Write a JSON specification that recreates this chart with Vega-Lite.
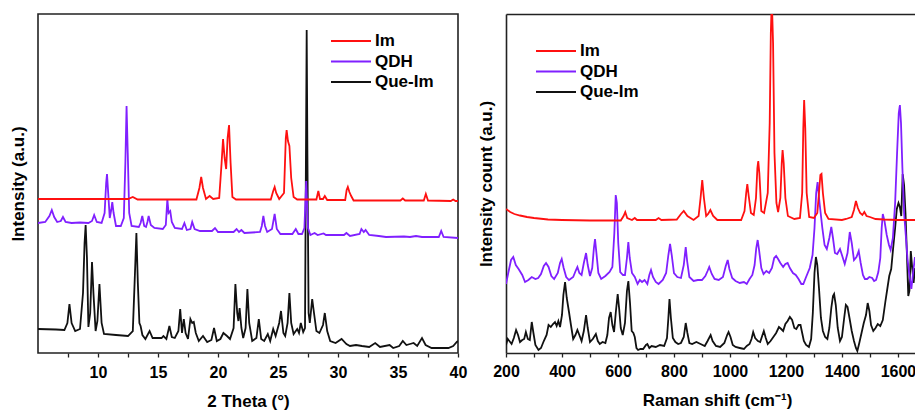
{
  "$schema": "https://vega.github.io/schema/vega-lite/v6.json",
  "background": "white",
  "padding": {"left": 8, "top": 13, "right": 0, "bottom": 0},
  "config": {
    "font": "Liberation Sans",
    "view": {"stroke": "#222222", "strokeWidth": 1.6},
    "axis": {
      "grid": false,
      "labelFont": "Liberation Sans",
      "labelFontWeight": "bold",
      "labelFontSize": 16,
      "labelColor": "#000000",
      "titleFont": "Liberation Sans",
      "titleFontWeight": "bold",
      "titleFontSize": 17,
      "titleColor": "#000000",
      "tickColor": "#222222",
      "tickWidth": 1.3,
      "domainColor": "#222222",
      "domainWidth": 1.6
    },
    "legend": {
      "title": null,
      "symbolType": "stroke",
      "symbolSize": 1600,
      "symbolStrokeWidth": 2,
      "labelFont": "Liberation Sans",
      "labelFontWeight": "bold",
      "labelFontSize": 17,
      "labelColor": "#000000",
      "clipHeight": 18,
      "rowPadding": 2.5,
      "labelOffset": 3,
      "padding": 0
    }
  },
  "datasets": {
    "xrd": [
      {"s":"Que-Im","x":5,"y":24},{"s":"Que-Im","x":6.5,"y":23.5},{"s":"Que-Im","x":7.2,"y":23},{"s":"Que-Im","x":7.45,"y":30},{"s":"Que-Im","x":7.62,"y":49},{"s":"Que-Im","x":7.8,"y":30},{"s":"Que-Im","x":8.1,"y":22},{"s":"Que-Im","x":8.5,"y":24},{"s":"Que-Im","x":8.75,"y":60},{"s":"Que-Im","x":8.88,"y":110},{"s":"Que-Im","x":8.97,"y":128},{"s":"Que-Im","x":9.08,"y":95},{"s":"Que-Im","x":9.2,"y":26},{"s":"Que-Im","x":9.35,"y":40},{"s":"Que-Im","x":9.5,"y":91},{"s":"Que-Im","x":9.62,"y":60},{"s":"Que-Im","x":9.8,"y":22},{"s":"Que-Im","x":9.95,"y":32},{"s":"Que-Im","x":10.12,"y":69},{"s":"Que-Im","x":10.3,"y":30},{"s":"Que-Im","x":10.5,"y":19},{"s":"Que-Im","x":11.5,"y":18},{"s":"Que-Im","x":12.5,"y":17},{"s":"Que-Im","x":12.9,"y":22},{"s":"Que-Im","x":13.05,"y":70},{"s":"Que-Im","x":13.2,"y":120},{"s":"Que-Im","x":13.32,"y":70},{"s":"Que-Im","x":13.45,"y":30},{"s":"Que-Im","x":13.55,"y":27},{"s":"Que-Im","x":13.7,"y":18},{"s":"Que-Im","x":13.95,"y":14},{"s":"Que-Im","x":14.3,"y":22},{"s":"Que-Im","x":14.55,"y":15},{"s":"Que-Im","x":15.3,"y":15},{"s":"Que-Im","x":15.45,"y":17},{"s":"Que-Im","x":15.7,"y":14},{"s":"Que-Im","x":15.95,"y":27},{"s":"Que-Im","x":16.15,"y":16},{"s":"Que-Im","x":16.4,"y":15},{"s":"Que-Im","x":16.7,"y":22},{"s":"Que-Im","x":16.85,"y":44},{"s":"Que-Im","x":17.0,"y":20},{"s":"Que-Im","x":17.15,"y":34},{"s":"Que-Im","x":17.3,"y":20},{"s":"Que-Im","x":17.5,"y":14},{"s":"Que-Im","x":17.7,"y":34},{"s":"Que-Im","x":17.85,"y":30},{"s":"Que-Im","x":17.98,"y":31},{"s":"Que-Im","x":18.15,"y":20},{"s":"Que-Im","x":18.4,"y":12},{"s":"Que-Im","x":18.75,"y":17},{"s":"Que-Im","x":19.1,"y":11},{"s":"Que-Im","x":19.45,"y":13},{"s":"Que-Im","x":19.67,"y":25},{"s":"Que-Im","x":19.9,"y":12},{"s":"Que-Im","x":20.2,"y":14},{"s":"Que-Im","x":20.45,"y":20},{"s":"Que-Im","x":20.75,"y":17},{"s":"Que-Im","x":21.0,"y":14},{"s":"Que-Im","x":21.3,"y":25},{"s":"Que-Im","x":21.45,"y":69},{"s":"Que-Im","x":21.6,"y":40},{"s":"Que-Im","x":21.7,"y":32},{"s":"Que-Im","x":21.8,"y":45},{"s":"Que-Im","x":21.95,"y":25},{"s":"Que-Im","x":22.1,"y":15},{"s":"Que-Im","x":22.3,"y":25},{"s":"Que-Im","x":22.45,"y":64},{"s":"Que-Im","x":22.6,"y":30},{"s":"Que-Im","x":22.85,"y":12},{"s":"Que-Im","x":23.2,"y":15},{"s":"Que-Im","x":23.4,"y":34},{"s":"Que-Im","x":23.6,"y":14},{"s":"Que-Im","x":23.85,"y":12},{"s":"Que-Im","x":24.15,"y":19},{"s":"Que-Im","x":24.35,"y":12},{"s":"Que-Im","x":24.6,"y":24},{"s":"Que-Im","x":24.8,"y":17},{"s":"Que-Im","x":25.1,"y":30},{"s":"Que-Im","x":25.25,"y":42},{"s":"Que-Im","x":25.45,"y":20},{"s":"Que-Im","x":25.6,"y":17},{"s":"Que-Im","x":25.8,"y":30},{"s":"Que-Im","x":25.95,"y":60},{"s":"Que-Im","x":26.1,"y":30},{"s":"Que-Im","x":26.3,"y":19},{"s":"Que-Im","x":26.6,"y":24},{"s":"Que-Im","x":26.75,"y":20},{"s":"Que-Im","x":26.9,"y":30},{"s":"Que-Im","x":27.1,"y":21},{"s":"Que-Im","x":27.25,"y":25},{"s":"Que-Im","x":27.33,"y":200},{"s":"Que-Im","x":27.39,"y":323},{"s":"Que-Im","x":27.45,"y":200},{"s":"Que-Im","x":27.55,"y":40},{"s":"Que-Im","x":27.65,"y":30},{"s":"Que-Im","x":27.85,"y":54},{"s":"Que-Im","x":28.0,"y":40},{"s":"Que-Im","x":28.2,"y":22},{"s":"Que-Im","x":28.45,"y":20},{"s":"Que-Im","x":28.75,"y":28},{"s":"Que-Im","x":28.9,"y":40},{"s":"Que-Im","x":29.1,"y":22},{"s":"Que-Im","x":29.35,"y":12},{"s":"Que-Im","x":29.8,"y":10},{"s":"Que-Im","x":30.3,"y":14},{"s":"Que-Im","x":30.7,"y":9},{"s":"Que-Im","x":31.0,"y":7},{"s":"Que-Im","x":31.5,"y":8},{"s":"Que-Im","x":32.0,"y":7},{"s":"Que-Im","x":32.6,"y":6},{"s":"Que-Im","x":33.1,"y":10},{"s":"Que-Im","x":33.5,"y":6},{"s":"Que-Im","x":34.3,"y":8},{"s":"Que-Im","x":34.6,"y":5},{"s":"Que-Im","x":35.1,"y":7},{"s":"Que-Im","x":35.4,"y":12},{"s":"Que-Im","x":35.7,"y":8},{"s":"Que-Im","x":36.0,"y":9},{"s":"Que-Im","x":36.3,"y":10},{"s":"Que-Im","x":36.6,"y":7},{"s":"Que-Im","x":37.0,"y":15},{"s":"Que-Im","x":37.3,"y":8},{"s":"Que-Im","x":37.8,"y":5},{"s":"Que-Im","x":38.5,"y":5},{"s":"Que-Im","x":39.2,"y":5},{"s":"Que-Im","x":39.6,"y":7},{"s":"Que-Im","x":39.9,"y":11},{"s":"Que-Im","x":40,"y":12},

      {"s":"QDH","x":5,"y":130},{"s":"QDH","x":5.6,"y":131},{"s":"QDH","x":5.95,"y":137},{"s":"QDH","x":6.15,"y":143},{"s":"QDH","x":6.35,"y":136},{"s":"QDH","x":6.6,"y":131},{"s":"QDH","x":6.9,"y":132},{"s":"QDH","x":7.08,"y":136},{"s":"QDH","x":7.3,"y":131},{"s":"QDH","x":7.8,"y":130},{"s":"QDH","x":8.5,"y":130.5},{"s":"QDH","x":9.2,"y":130},{"s":"QDH","x":9.5,"y":132},{"s":"QDH","x":9.68,"y":138},{"s":"QDH","x":9.9,"y":131},{"s":"QDH","x":10.3,"y":130},{"s":"QDH","x":10.55,"y":140},{"s":"QDH","x":10.68,"y":170},{"s":"QDH","x":10.75,"y":179},{"s":"QDH","x":10.85,"y":160},{"s":"QDH","x":10.98,"y":135},{"s":"QDH","x":11.1,"y":143},{"s":"QDH","x":11.19,"y":151},{"s":"QDH","x":11.3,"y":140},{"s":"QDH","x":11.5,"y":127},{"s":"QDH","x":11.9,"y":127},{"s":"QDH","x":12.15,"y":135},{"s":"QDH","x":12.28,"y":190},{"s":"QDH","x":12.38,"y":247},{"s":"QDH","x":12.48,"y":200},{"s":"QDH","x":12.6,"y":140},{"s":"QDH","x":12.8,"y":127},{"s":"QDH","x":13.4,"y":126},{"s":"QDH","x":13.55,"y":130},{"s":"QDH","x":13.69,"y":137},{"s":"QDH","x":13.85,"y":127},{"s":"QDH","x":14.0,"y":126},{"s":"QDH","x":14.12,"y":131},{"s":"QDH","x":14.22,"y":137},{"s":"QDH","x":14.4,"y":128},{"s":"QDH","x":14.7,"y":125},{"s":"QDH","x":15.4,"y":124},{"s":"QDH","x":15.65,"y":128},{"s":"QDH","x":15.78,"y":154},{"s":"QDH","x":15.88,"y":140},{"s":"QDH","x":16.02,"y":142},{"s":"QDH","x":16.15,"y":131},{"s":"QDH","x":16.4,"y":125},{"s":"QDH","x":17.0,"y":124},{"s":"QDH","x":17.2,"y":130},{"s":"QDH","x":17.4,"y":123},{"s":"QDH","x":17.7,"y":124},{"s":"QDH","x":17.85,"y":131},{"s":"QDH","x":18.05,"y":124},{"s":"QDH","x":18.5,"y":122},{"s":"QDH","x":19.5,"y":122},{"s":"QDH","x":19.75,"y":125},{"s":"QDH","x":20.0,"y":121},{"s":"QDH","x":21.3,"y":121},{"s":"QDH","x":21.55,"y":124},{"s":"QDH","x":21.75,"y":121},{"s":"QDH","x":21.95,"y":123},{"s":"QDH","x":22.2,"y":120},{"s":"QDH","x":23.5,"y":121},{"s":"QDH","x":23.65,"y":127},{"s":"QDH","x":23.78,"y":137},{"s":"QDH","x":23.92,"y":127},{"s":"QDH","x":24.1,"y":121},{"s":"QDH","x":24.5,"y":124},{"s":"QDH","x":24.72,"y":139},{"s":"QDH","x":24.9,"y":124},{"s":"QDH","x":25.2,"y":119},{"s":"QDH","x":26.2,"y":119},{"s":"QDH","x":26.48,"y":124},{"s":"QDH","x":26.7,"y":119},{"s":"QDH","x":27.0,"y":119},{"s":"QDH","x":27.2,"y":125},{"s":"QDH","x":27.35,"y":172},{"s":"QDH","x":27.5,"y":125},{"s":"QDH","x":27.7,"y":118},{"s":"QDH","x":28.05,"y":120},{"s":"QDH","x":28.3,"y":118},{"s":"QDH","x":28.8,"y":119.5},{"s":"QDH","x":29.0,"y":118},{"s":"QDH","x":30.5,"y":118},{"s":"QDH","x":30.7,"y":120},{"s":"QDH","x":31.0,"y":117},{"s":"QDH","x":31.8,"y":119},{"s":"QDH","x":31.95,"y":124},{"s":"QDH","x":32.15,"y":121},{"s":"QDH","x":32.3,"y":123},{"s":"QDH","x":32.6,"y":118},{"s":"QDH","x":33.4,"y":117},{"s":"QDH","x":34.0,"y":116},{"s":"QDH","x":35.5,"y":116.5},{"s":"QDH","x":36.0,"y":116},{"s":"QDH","x":36.5,"y":117},{"s":"QDH","x":37,"y":116},{"s":"QDH","x":38.4,"y":116},{"s":"QDH","x":38.6,"y":122},{"s":"QDH","x":38.8,"y":116},{"s":"QDH","x":40,"y":115},

      {"s":"Im","x":5,"y":154},{"s":"Im","x":8,"y":154},{"s":"Im","x":12.5,"y":154},{"s":"Im","x":12.9,"y":156},{"s":"Im","x":13.3,"y":153.5},{"s":"Im","x":18.2,"y":153.5},{"s":"Im","x":18.45,"y":165},{"s":"Im","x":18.6,"y":176},{"s":"Im","x":18.75,"y":165},{"s":"Im","x":19.0,"y":154},{"s":"Im","x":19.3,"y":157},{"s":"Im","x":19.6,"y":154},{"s":"Im","x":20.1,"y":155},{"s":"Im","x":20.3,"y":190},{"s":"Im","x":20.42,"y":214},{"s":"Im","x":20.55,"y":195},{"s":"Im","x":20.68,"y":184},{"s":"Im","x":20.8,"y":215},{"s":"Im","x":20.92,"y":228},{"s":"Im","x":21.05,"y":190},{"s":"Im","x":21.2,"y":156},{"s":"Im","x":21.5,"y":153.5},{"s":"Im","x":24.4,"y":153.5},{"s":"Im","x":24.6,"y":162},{"s":"Im","x":24.72,"y":166},{"s":"Im","x":24.85,"y":160},{"s":"Im","x":25.1,"y":154},{"s":"Im","x":25.5,"y":160},{"s":"Im","x":25.65,"y":215},{"s":"Im","x":25.72,"y":223},{"s":"Im","x":25.83,"y":212},{"s":"Im","x":25.95,"y":207},{"s":"Im","x":26.1,"y":175},{"s":"Im","x":26.3,"y":156},{"s":"Im","x":26.6,"y":153.5},{"s":"Im","x":28.2,"y":153.5},{"s":"Im","x":28.36,"y":162},{"s":"Im","x":28.5,"y":154},{"s":"Im","x":28.75,"y":154},{"s":"Im","x":28.9,"y":157},{"s":"Im","x":29.1,"y":153},{"s":"Im","x":30.6,"y":153},{"s":"Im","x":30.72,"y":163},{"s":"Im","x":30.82,"y":166},{"s":"Im","x":30.95,"y":161},{"s":"Im","x":31.1,"y":157},{"s":"Im","x":31.3,"y":152.5},{"s":"Im","x":35.2,"y":152.5},{"s":"Im","x":35.4,"y":154.5},{"s":"Im","x":35.6,"y":152.5},{"s":"Im","x":37.15,"y":152.5},{"s":"Im","x":37.32,"y":159},{"s":"Im","x":37.5,"y":152.5},{"s":"Im","x":39.4,"y":152},{"s":"Im","x":39.6,"y":153.5},{"s":"Im","x":39.8,"y":152},{"s":"Im","x":40,"y":152}
    ],
    "raman": [
      {"s":"Que-Im","x":200,"y":8},{"s":"Que-Im","x":206,"y":14},{"s":"Que-Im","x":212,"y":12},{"s":"Que-Im","x":220,"y":9},{"s":"Que-Im","x":228,"y":15},{"s":"Que-Im","x":236,"y":23},{"s":"Que-Im","x":243,"y":18},{"s":"Que-Im","x":250,"y":11},{"s":"Que-Im","x":258,"y":13},{"s":"Que-Im","x":265,"y":14},{"s":"Que-Im","x":271,"y":21},{"s":"Que-Im","x":278,"y":14},{"s":"Que-Im","x":285,"y":13},{"s":"Que-Im","x":292,"y":31},{"s":"Que-Im","x":298,"y":20},{"s":"Que-Im","x":305,"y":8},{"s":"Que-Im","x":316,"y":3},{"s":"Que-Im","x":325,"y":5},{"s":"Que-Im","x":335,"y":12},{"s":"Que-Im","x":345,"y":18},{"s":"Que-Im","x":352,"y":28},{"s":"Que-Im","x":360,"y":26},{"s":"Que-Im","x":368,"y":29},{"s":"Que-Im","x":375,"y":31},{"s":"Que-Im","x":381,"y":27},{"s":"Que-Im","x":387,"y":32},{"s":"Que-Im","x":393,"y":26},{"s":"Que-Im","x":400,"y":38},{"s":"Que-Im","x":405,"y":58},{"s":"Que-Im","x":411,"y":71},{"s":"Que-Im","x":417,"y":55},{"s":"Que-Im","x":425,"y":41},{"s":"Que-Im","x":432,"y":28},{"s":"Que-Im","x":440,"y":14},{"s":"Que-Im","x":448,"y":18},{"s":"Que-Im","x":455,"y":23},{"s":"Que-Im","x":462,"y":18},{"s":"Que-Im","x":470,"y":12},{"s":"Que-Im","x":478,"y":22},{"s":"Que-Im","x":486,"y":38},{"s":"Que-Im","x":492,"y":25},{"s":"Que-Im","x":500,"y":11},{"s":"Que-Im","x":510,"y":14},{"s":"Que-Im","x":521,"y":19},{"s":"Que-Im","x":528,"y":12},{"s":"Que-Im","x":535,"y":9},{"s":"Que-Im","x":545,"y":11},{"s":"Que-Im","x":555,"y":10},{"s":"Que-Im","x":562,"y":18},{"s":"Que-Im","x":568,"y":35},{"s":"Que-Im","x":574,"y":41},{"s":"Que-Im","x":580,"y":28},{"s":"Que-Im","x":586,"y":21},{"s":"Que-Im","x":592,"y":40},{"s":"Que-Im","x":599,"y":59},{"s":"Que-Im","x":604,"y":45},{"s":"Que-Im","x":610,"y":25},{"s":"Que-Im","x":617,"y":18},{"s":"Que-Im","x":625,"y":30},{"s":"Que-Im","x":632,"y":62},{"s":"Que-Im","x":637,"y":72},{"s":"Que-Im","x":643,"y":50},{"s":"Que-Im","x":649,"y":22},{"s":"Que-Im","x":655,"y":20},{"s":"Que-Im","x":660,"y":16},{"s":"Que-Im","x":666,"y":5},{"s":"Que-Im","x":672,"y":3},{"s":"Que-Im","x":680,"y":4},{"s":"Que-Im","x":690,"y":4},{"s":"Que-Im","x":700,"y":8},{"s":"Que-Im","x":705,"y":9},{"s":"Que-Im","x":712,"y":5},{"s":"Que-Im","x":720,"y":7},{"s":"Que-Im","x":735,"y":6},{"s":"Que-Im","x":750,"y":8},{"s":"Que-Im","x":765,"y":7},{"s":"Que-Im","x":775,"y":15},{"s":"Que-Im","x":780,"y":35},{"s":"Que-Im","x":784,"y":54},{"s":"Que-Im","x":789,"y":35},{"s":"Que-Im","x":796,"y":15},{"s":"Que-Im","x":805,"y":11},{"s":"Que-Im","x":815,"y":9},{"s":"Que-Im","x":825,"y":10},{"s":"Que-Im","x":835,"y":16},{"s":"Que-Im","x":842,"y":30},{"s":"Que-Im","x":848,"y":20},{"s":"Que-Im","x":855,"y":10},{"s":"Que-Im","x":865,"y":9},{"s":"Que-Im","x":880,"y":11},{"s":"Que-Im","x":895,"y":9},{"s":"Que-Im","x":910,"y":7},{"s":"Que-Im","x":920,"y":12},{"s":"Que-Im","x":931,"y":18},{"s":"Que-Im","x":938,"y":12},{"s":"Que-Im","x":950,"y":7},{"s":"Que-Im","x":965,"y":6},{"s":"Que-Im","x":980,"y":10},{"s":"Que-Im","x":990,"y":18},{"s":"Que-Im","x":995,"y":21},{"s":"Que-Im","x":1002,"y":16},{"s":"Que-Im","x":1010,"y":8},{"s":"Que-Im","x":1020,"y":6},{"s":"Que-Im","x":1035,"y":5},{"s":"Que-Im","x":1050,"y":4},{"s":"Que-Im","x":1060,"y":7},{"s":"Que-Im","x":1070,"y":9},{"s":"Que-Im","x":1077,"y":14},{"s":"Que-Im","x":1083,"y":21},{"s":"Que-Im","x":1090,"y":15},{"s":"Que-Im","x":1100,"y":12},{"s":"Que-Im","x":1108,"y":11},{"s":"Que-Im","x":1115,"y":17},{"s":"Que-Im","x":1121,"y":22},{"s":"Que-Im","x":1128,"y":15},{"s":"Que-Im","x":1135,"y":9},{"s":"Que-Im","x":1145,"y":12},{"s":"Que-Im","x":1155,"y":16},{"s":"Que-Im","x":1165,"y":20},{"s":"Que-Im","x":1175,"y":26},{"s":"Que-Im","x":1183,"y":24},{"s":"Que-Im","x":1190,"y":22},{"s":"Que-Im","x":1198,"y":29},{"s":"Que-Im","x":1206,"y":32},{"s":"Que-Im","x":1214,"y":36},{"s":"Que-Im","x":1222,"y":33},{"s":"Que-Im","x":1230,"y":25},{"s":"Que-Im","x":1237,"y":24},{"s":"Que-Im","x":1245,"y":28},{"s":"Que-Im","x":1252,"y":28},{"s":"Que-Im","x":1258,"y":20},{"s":"Que-Im","x":1264,"y":12},{"s":"Que-Im","x":1272,"y":8},{"s":"Que-Im","x":1282,"y":6},{"s":"Que-Im","x":1290,"y":14},{"s":"Que-Im","x":1296,"y":40},{"s":"Que-Im","x":1302,"y":80},{"s":"Que-Im","x":1307,"y":96},{"s":"Que-Im","x":1312,"y":88},{"s":"Que-Im","x":1318,"y":65},{"s":"Que-Im","x":1325,"y":35},{"s":"Que-Im","x":1332,"y":22},{"s":"Que-Im","x":1340,"y":16},{"s":"Que-Im","x":1348,"y":14},{"s":"Que-Im","x":1355,"y":25},{"s":"Que-Im","x":1362,"y":45},{"s":"Que-Im","x":1368,"y":57},{"s":"Que-Im","x":1372,"y":59},{"s":"Que-Im","x":1378,"y":48},{"s":"Que-Im","x":1385,"y":25},{"s":"Que-Im","x":1393,"y":12},{"s":"Que-Im","x":1400,"y":16},{"s":"Que-Im","x":1408,"y":35},{"s":"Que-Im","x":1414,"y":48},{"s":"Que-Im","x":1420,"y":46},{"s":"Que-Im","x":1427,"y":35},{"s":"Que-Im","x":1435,"y":22},{"s":"Que-Im","x":1443,"y":12},{"s":"Que-Im","x":1450,"y":5},{"s":"Que-Im","x":1455,"y":2},{"s":"Que-Im","x":1462,"y":10},{"s":"Que-Im","x":1470,"y":20},{"s":"Que-Im","x":1478,"y":30},{"s":"Que-Im","x":1486,"y":38},{"s":"Que-Im","x":1492,"y":50},{"s":"Que-Im","x":1498,"y":42},{"s":"Que-Im","x":1504,"y":28},{"s":"Que-Im","x":1512,"y":22},{"s":"Que-Im","x":1520,"y":25},{"s":"Que-Im","x":1528,"y":29},{"s":"Que-Im","x":1537,"y":27},{"s":"Que-Im","x":1546,"y":33},{"s":"Que-Im","x":1555,"y":51},{"s":"Que-Im","x":1562,"y":64},{"s":"Que-Im","x":1569,"y":77},{"s":"Que-Im","x":1576,"y":84},{"s":"Que-Im","x":1583,"y":105},{"s":"Que-Im","x":1590,"y":125},{"s":"Que-Im","x":1596,"y":144},{"s":"Que-Im","x":1602,"y":150},{"s":"Que-Im","x":1607,"y":146},{"s":"Que-Im","x":1612,"y":137},{"s":"Que-Im","x":1617,"y":179},{"s":"Que-Im","x":1622,"y":168},{"s":"Que-Im","x":1627,"y":140},{"s":"Que-Im","x":1632,"y":100},{"s":"Que-Im","x":1637,"y":57},{"s":"Que-Im","x":1641,"y":62},{"s":"Que-Im","x":1646,"y":102},{"s":"Que-Im","x":1651,"y":85},{"s":"Que-Im","x":1656,"y":70},{"s":"Que-Im","x":1661,"y":85},

      {"s":"QDH","x":200,"y":69},{"s":"QDH","x":208,"y":80},{"s":"QDH","x":218,"y":93},{"s":"QDH","x":226,"y":96},{"s":"QDH","x":235,"y":88},{"s":"QDH","x":245,"y":84},{"s":"QDH","x":258,"y":78},{"s":"QDH","x":268,"y":71},{"s":"QDH","x":280,"y":73},{"s":"QDH","x":292,"y":76},{"s":"QDH","x":305,"y":74},{"s":"QDH","x":315,"y":75},{"s":"QDH","x":325,"y":79},{"s":"QDH","x":335,"y":87},{"s":"QDH","x":343,"y":90},{"s":"QDH","x":352,"y":86},{"s":"QDH","x":362,"y":77},{"s":"QDH","x":372,"y":74},{"s":"QDH","x":385,"y":80},{"s":"QDH","x":393,"y":90},{"s":"QDH","x":399,"y":94},{"s":"QDH","x":406,"y":85},{"s":"QDH","x":415,"y":76},{"s":"QDH","x":425,"y":73},{"s":"QDH","x":440,"y":76},{"s":"QDH","x":450,"y":83},{"s":"QDH","x":455,"y":86},{"s":"QDH","x":462,"y":80},{"s":"QDH","x":470,"y":78},{"s":"QDH","x":478,"y":90},{"s":"QDH","x":486,"y":100},{"s":"QDH","x":492,"y":88},{"s":"QDH","x":500,"y":77},{"s":"QDH","x":508,"y":85},{"s":"QDH","x":514,"y":105},{"s":"QDH","x":518,"y":114},{"s":"QDH","x":523,"y":100},{"s":"QDH","x":530,"y":80},{"s":"QDH","x":540,"y":74},{"s":"QDH","x":555,"y":77},{"s":"QDH","x":570,"y":81},{"s":"QDH","x":580,"y":86},{"s":"QDH","x":587,"y":120},{"s":"QDH","x":592,"y":158},{"s":"QDH","x":596,"y":150},{"s":"QDH","x":601,"y":110},{"s":"QDH","x":608,"y":81},{"s":"QDH","x":618,"y":78},{"s":"QDH","x":625,"y":78},{"s":"QDH","x":632,"y":95},{"s":"QDH","x":637,"y":111},{"s":"QDH","x":642,"y":95},{"s":"QDH","x":650,"y":80},{"s":"QDH","x":660,"y":76},{"s":"QDH","x":670,"y":69},{"s":"QDH","x":678,"y":73},{"s":"QDH","x":686,"y":71},{"s":"QDH","x":695,"y":73},{"s":"QDH","x":705,"y":69},{"s":"QDH","x":712,"y":78},{"s":"QDH","x":718,"y":83},{"s":"QDH","x":725,"y":76},{"s":"QDH","x":735,"y":71},{"s":"QDH","x":745,"y":69},{"s":"QDH","x":760,"y":73},{"s":"QDH","x":772,"y":80},{"s":"QDH","x":780,"y":98},{"s":"QDH","x":786,"y":109},{"s":"QDH","x":792,"y":98},{"s":"QDH","x":800,"y":80},{"s":"QDH","x":812,"y":76},{"s":"QDH","x":825,"y":75},{"s":"QDH","x":835,"y":88},{"s":"QDH","x":842,"y":106},{"s":"QDH","x":847,"y":92},{"s":"QDH","x":855,"y":76},{"s":"QDH","x":870,"y":72},{"s":"QDH","x":885,"y":73},{"s":"QDH","x":900,"y":73},{"s":"QDH","x":912,"y":77},{"s":"QDH","x":920,"y":82},{"s":"QDH","x":926,"y":86},{"s":"QDH","x":935,"y":79},{"s":"QDH","x":945,"y":74},{"s":"QDH","x":960,"y":73},{"s":"QDH","x":975,"y":76},{"s":"QDH","x":985,"y":87},{"s":"QDH","x":992,"y":93},{"s":"QDH","x":998,"y":84},{"s":"QDH","x":1008,"y":75},{"s":"QDH","x":1020,"y":72},{"s":"QDH","x":1035,"y":70},{"s":"QDH","x":1050,"y":71},{"s":"QDH","x":1060,"y":69},{"s":"QDH","x":1070,"y":74},{"s":"QDH","x":1080,"y":78},{"s":"QDH","x":1088,"y":88},{"s":"QDH","x":1094,"y":105},{"s":"QDH","x":1099,"y":113},{"s":"QDH","x":1104,"y":103},{"s":"QDH","x":1112,"y":85},{"s":"QDH","x":1120,"y":79},{"s":"QDH","x":1130,"y":82},{"s":"QDH","x":1140,"y":80},{"s":"QDH","x":1150,"y":85},{"s":"QDH","x":1158,"y":95},{"s":"QDH","x":1165,"y":97},{"s":"QDH","x":1172,"y":94},{"s":"QDH","x":1180,"y":90},{"s":"QDH","x":1190,"y":86},{"s":"QDH","x":1198,"y":89},{"s":"QDH","x":1206,"y":90},{"s":"QDH","x":1214,"y":85},{"s":"QDH","x":1225,"y":80},{"s":"QDH","x":1235,"y":78},{"s":"QDH","x":1245,"y":74},{"s":"QDH","x":1255,"y":69},{"s":"QDH","x":1262,"y":69},{"s":"QDH","x":1272,"y":76},{"s":"QDH","x":1285,"y":85},{"s":"QDH","x":1295,"y":98},{"s":"QDH","x":1302,"y":125},{"s":"QDH","x":1308,"y":160},{"s":"QDH","x":1313,"y":171},{"s":"QDH","x":1320,"y":150},{"s":"QDH","x":1330,"y":125},{"s":"QDH","x":1338,"y":108},{"s":"QDH","x":1346,"y":104},{"s":"QDH","x":1355,"y":115},{"s":"QDH","x":1362,"y":126},{"s":"QDH","x":1368,"y":115},{"s":"QDH","x":1375,"y":100},{"s":"QDH","x":1383,"y":99},{"s":"QDH","x":1393,"y":104},{"s":"QDH","x":1400,"y":98},{"s":"QDH","x":1410,"y":89},{"s":"QDH","x":1420,"y":100},{"s":"QDH","x":1428,"y":121},{"s":"QDH","x":1435,"y":110},{"s":"QDH","x":1443,"y":93},{"s":"QDH","x":1452,"y":96},{"s":"QDH","x":1460,"y":102},{"s":"QDH","x":1467,"y":90},{"s":"QDH","x":1475,"y":78},{"s":"QDH","x":1482,"y":74},{"s":"QDH","x":1490,"y":74},{"s":"QDH","x":1498,"y":76},{"s":"QDH","x":1508,"y":75},{"s":"QDH","x":1515,"y":72},{"s":"QDH","x":1522,"y":73},{"s":"QDH","x":1530,"y":81},{"s":"QDH","x":1537,"y":95},{"s":"QDH","x":1542,"y":125},{"s":"QDH","x":1546,"y":139},{"s":"QDH","x":1552,"y":132},{"s":"QDH","x":1560,"y":118},{"s":"QDH","x":1568,"y":108},{"s":"QDH","x":1574,"y":103},{"s":"QDH","x":1582,"y":115},{"s":"QDH","x":1590,"y":150},{"s":"QDH","x":1597,"y":200},{"s":"QDH","x":1603,"y":240},{"s":"QDH","x":1607,"y":248},{"s":"QDH","x":1611,"y":230},{"s":"QDH","x":1616,"y":185},{"s":"QDH","x":1622,"y":140},{"s":"QDH","x":1628,"y":118},{"s":"QDH","x":1634,"y":95},{"s":"QDH","x":1640,"y":80},{"s":"QDH","x":1648,"y":64},{"s":"QDH","x":1654,"y":80},{"s":"QDH","x":1661,"y":96},

      {"s":"Im","x":200,"y":144},{"s":"Im","x":215,"y":141},{"s":"Im","x":230,"y":139},{"s":"Im","x":250,"y":137.5},{"s":"Im","x":275,"y":136},{"s":"Im","x":300,"y":135},{"s":"Im","x":350,"y":133.5},{"s":"Im","x":400,"y":133},{"s":"Im","x":500,"y":132.5},{"s":"Im","x":610,"y":132.5},{"s":"Im","x":620,"y":137},{"s":"Im","x":626,"y":141},{"s":"Im","x":633,"y":135},{"s":"Im","x":650,"y":133},{"s":"Im","x":660,"y":135},{"s":"Im","x":668,"y":133},{"s":"Im","x":735,"y":133},{"s":"Im","x":745,"y":135},{"s":"Im","x":755,"y":133},{"s":"Im","x":810,"y":133.5},{"s":"Im","x":825,"y":139},{"s":"Im","x":835,"y":142},{"s":"Im","x":848,"y":137},{"s":"Im","x":870,"y":133},{"s":"Im","x":888,"y":137},{"s":"Im","x":895,"y":155},{"s":"Im","x":901,"y":173},{"s":"Im","x":907,"y":155},{"s":"Im","x":915,"y":137},{"s":"Im","x":922,"y":139},{"s":"Im","x":930,"y":143},{"s":"Im","x":940,"y":137},{"s":"Im","x":955,"y":133},{"s":"Im","x":1040,"y":133},{"s":"Im","x":1052,"y":142},{"s":"Im","x":1058,"y":160},{"s":"Im","x":1062,"y":169},{"s":"Im","x":1067,"y":157},{"s":"Im","x":1075,"y":140},{"s":"Im","x":1085,"y":138},{"s":"Im","x":1093,"y":155},{"s":"Im","x":1098,"y":185},{"s":"Im","x":1101,"y":192},{"s":"Im","x":1105,"y":180},{"s":"Im","x":1112,"y":142},{"s":"Im","x":1122,"y":140},{"s":"Im","x":1135,"y":160},{"s":"Im","x":1142,"y":230},{"s":"Im","x":1146,"y":320},{"s":"Im","x":1148,"y":339},{"s":"Im","x":1151,"y":339},{"s":"Im","x":1154,"y":310},{"s":"Im","x":1159,"y":200},{"s":"Im","x":1166,"y":150},{"s":"Im","x":1172,"y":141},{"s":"Im","x":1180,"y":155},{"s":"Im","x":1185,"y":190},{"s":"Im","x":1188,"y":203},{"s":"Im","x":1192,"y":190},{"s":"Im","x":1198,"y":155},{"s":"Im","x":1207,"y":137},{"s":"Im","x":1230,"y":134},{"s":"Im","x":1250,"y":135},{"s":"Im","x":1258,"y":160},{"s":"Im","x":1262,"y":225},{"s":"Im","x":1265,"y":253},{"s":"Im","x":1269,"y":225},{"s":"Im","x":1274,"y":160},{"s":"Im","x":1283,"y":136},{"s":"Im","x":1300,"y":135},{"s":"Im","x":1312,"y":140},{"s":"Im","x":1318,"y":160},{"s":"Im","x":1323,"y":178},{"s":"Im","x":1327,"y":179},{"s":"Im","x":1332,"y":160},{"s":"Im","x":1340,"y":140},{"s":"Im","x":1352,"y":134},{"s":"Im","x":1400,"y":133},{"s":"Im","x":1415,"y":134},{"s":"Im","x":1435,"y":136},{"s":"Im","x":1443,"y":143},{"s":"Im","x":1450,"y":152},{"s":"Im","x":1457,"y":145},{"s":"Im","x":1465,"y":140},{"s":"Im","x":1473,"y":138},{"s":"Im","x":1480,"y":141},{"s":"Im","x":1488,"y":137},{"s":"Im","x":1500,"y":136},{"s":"Im","x":1520,"y":134},{"s":"Im","x":1550,"y":133.5},{"s":"Im","x":1600,"y":133},{"s":"Im","x":1661,"y":133}
    ]
  },
  "hconcat": [
    {
      "width": 420,
      "height": 339,
      "data": {"name": "xrd"},
      "mark": {"type": "line", "strokeWidth": 1.8, "clip": true},
      "encoding": {
        "x": {
          "field": "x", "type": "quantitative",
          "scale": {"domain": [5, 40], "nice": false, "zero": false},
          "axis": {
            "title": "2 Theta (°)",
            "values": [7.5, 10, 12.5, 15, 17.5, 20, 22.5, 25, 27.5, 30, 32.5, 35, 37.5, 40],
            "format": "d",
            "labelExpr": "datum.value % 5 === 0 ? datum.label : ''",
            "labelOverlap": false,
            "labelFlush": false,
            "tickSize": 4,
            "labelPadding": 7,
            "titlePadding": 13,
            "domain": false
          }
        },
        "y": {
          "field": "y", "type": "quantitative",
          "scale": {"domain": [0, 339], "nice": false},
          "axis": {"title": "Intensity (a.u.)", "labels": false, "ticks": false, "domain": false, "titlePadding": 11}
        },
        "color": {
          "field": "s", "type": "nominal",
          "scale": {"domain": ["Im", "QDH", "Que-Im"], "range": ["#ff1010", "#8020ff", "#111111"]},
          "legend": {"orient": "none", "legendX": 292, "legendY": 18}
        }
      }
    },
    {
      "width": 409,
      "height": 339,
      "view": {"stroke": null},
      "data": {"name": "raman"},
      "layer": [
        {
          "mark": {"type": "line", "strokeWidth": 1.8, "clip": true},
          "encoding": {
            "x": {
              "field": "x", "type": "quantitative",
              "scale": {"domain": [200, 1661], "nice": false, "zero": false},
              "axis": {
                "title": "Raman shift (cm⁻¹)",
                "titleX": 211,
                "values": [200, 300, 400, 500, 600, 700, 800, 900, 1000, 1100, 1200, 1300, 1400, 1500, 1600],
                "format": "d",
                "labelExpr": "datum.value % 200 === 0 ? datum.label : ''",
                "labelOverlap": false,
                "labelFlush": false,
                "tickSize": 4,
                "labelPadding": 6,
                "titlePadding": 13,
                "domain": true
              }
            },
            "y": {
              "field": "y", "type": "quantitative",
              "scale": {"domain": [0, 339], "nice": false},
              "axis": {"title": "Intensity count (a.u.)", "labels": false, "ticks": false, "domain": true, "titlePadding": 11}
            },
            "color": {
              "field": "s", "type": "nominal",
              "scale": {"domain": ["Im", "QDH", "Que-Im"], "range": ["#ff1010", "#8020ff", "#111111"]},
              "legend": {"orient": "none", "legendX": 29, "legendY": 28}
            }
          }
        },
        {
          "mark": {"type": "line", "opacity": 0},
          "encoding": {
            "x": {
              "field": "x", "type": "quantitative",
              "axis": {"orient": "top", "title": null, "labels": false, "ticks": false, "domain": true}
            },
            "y": {"field": "y", "type": "quantitative"}
          }
        }
      ],
      "resolve": {"axis": {"x": "independent"}}
    }
  ],
  "spacing": 48,
  "bounds": "flush",
  "resolve": {"scale": {"color": "independent"}, "legend": {"color": "independent"}}
}
